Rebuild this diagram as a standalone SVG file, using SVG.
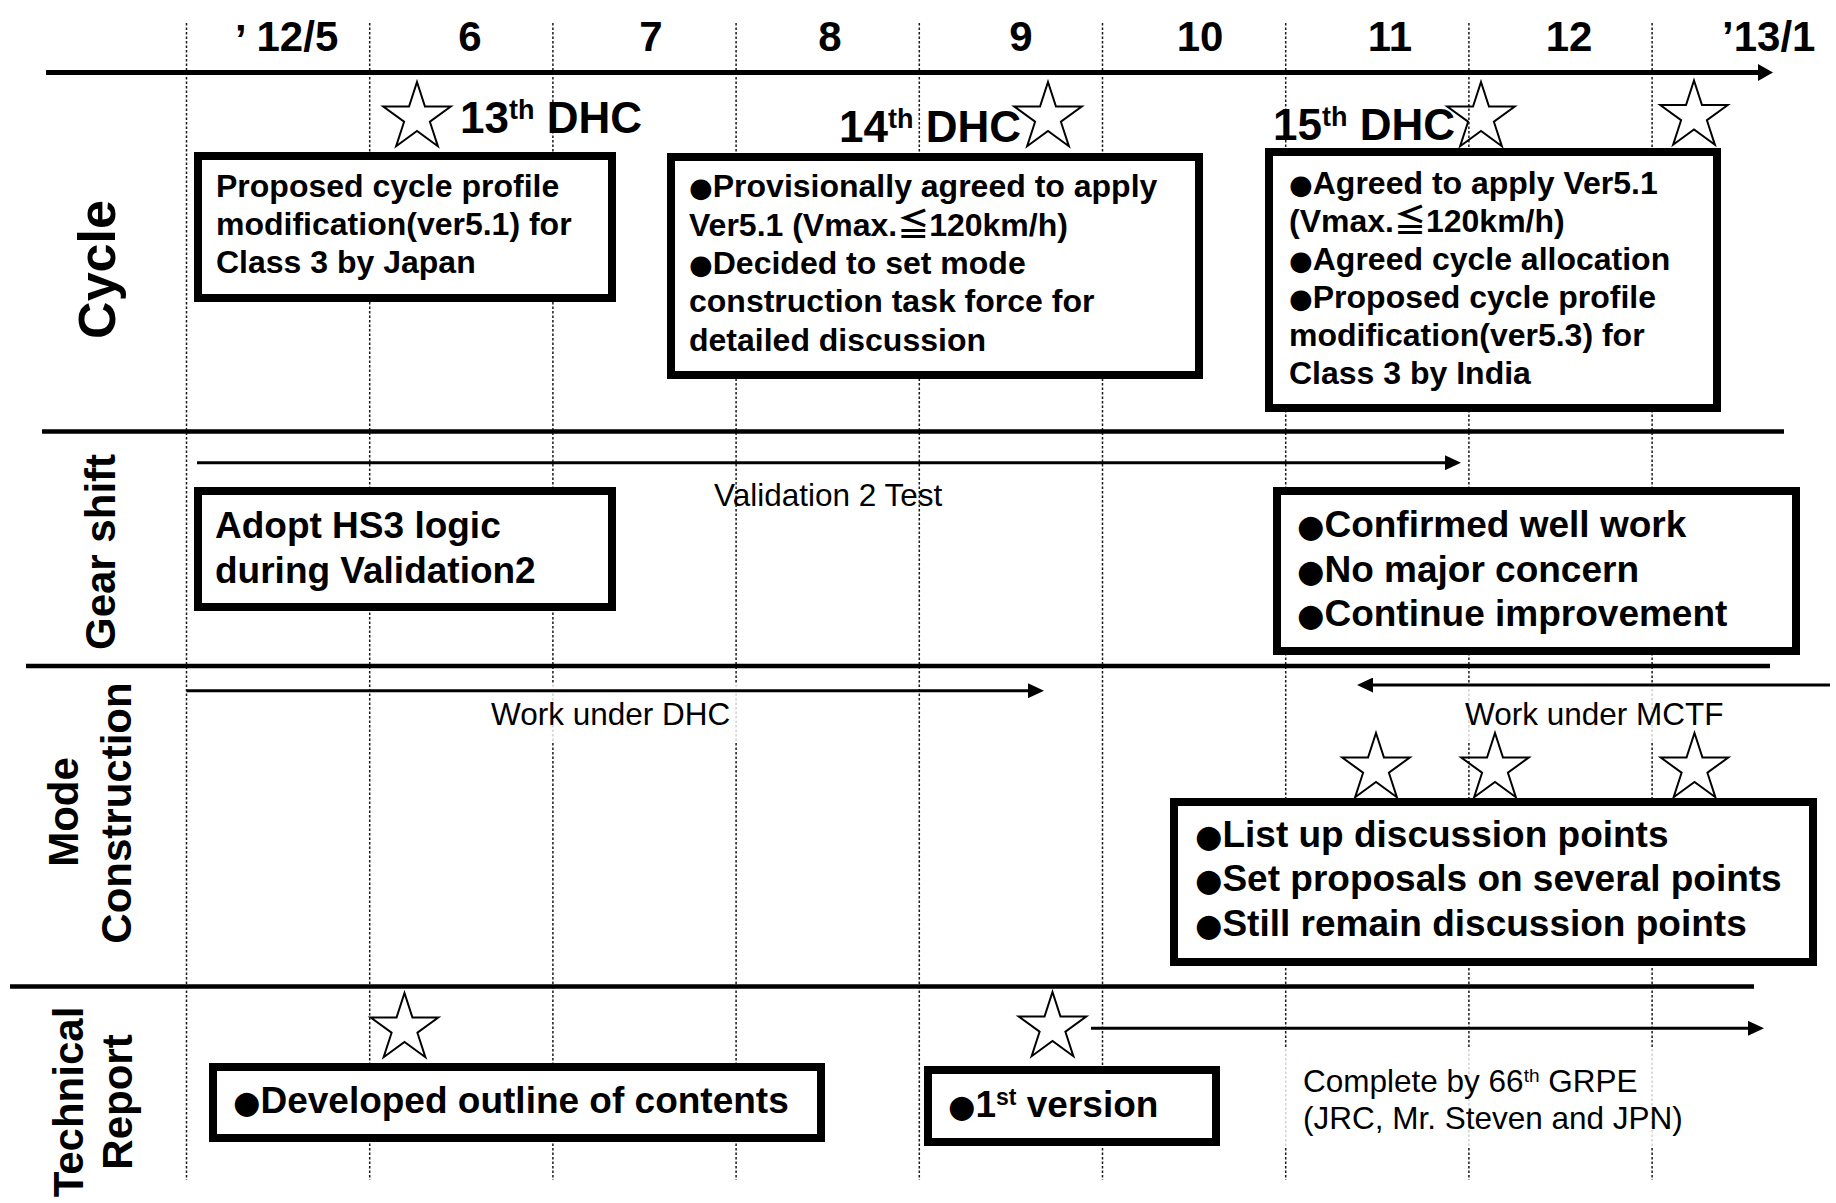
<svg xmlns="http://www.w3.org/2000/svg" xmlns:xlink="http://www.w3.org/1999/xlink" width="1836" height="1203" viewBox="0 0 1836 1203">
  <defs>
    <style>
      .bg { fill: #ffffff; }
      .grid { stroke: #1a1a1a; stroke-width: 1.5; stroke-dasharray: 2.5 2; fill: none; }
      .sep { stroke: #000; stroke-width: 4.5; fill: none; }
      .box { fill: #fff; stroke: #000; stroke-width: 8; }
      .star { fill: none; stroke: #000; stroke-width: 2; stroke-linejoin: miter; }
      .arrow { stroke: #000; stroke-width: 3; fill: none; marker-end: url(#head); }
      .axis { stroke: #000; stroke-width: 5; fill: none; marker-end: url(#axisHead); }
      .lblbg { fill: #fff; fill-opacity: 0.8; }
      .bold { font-family: "Liberation Sans", Arial, "Noto Sans CJK JP", sans-serif; font-weight: bold; fill: #000; }
      .reg { font-family: "Liberation Sans", Arial, "Noto Sans CJK JP", sans-serif; font-weight: normal; fill: #000; font-size: 31.5px; }
      .blt { font-family: "DejaVu Sans", sans-serif; font-weight: normal; font-size: 0.85em; }
      .month { font-size: 42px; text-anchor: middle; }
      .dhc { font-size: 44px; }
      .small { font-size: 32px; }
      .big { font-size: 37px; }
      .lane { font-size: 42px; text-anchor: middle; }
    </style>
    <marker id="head" markerUnits="userSpaceOnUse" markerWidth="16" markerHeight="15" refX="0" refY="7.5" orient="auto">
      <path d="M0,0 L16,7.5 L0,15 z" fill="#000"/>
    </marker>
    <marker id="axisHead" markerUnits="userSpaceOnUse" markerWidth="15" markerHeight="17" refX="0" refY="8.5" orient="auto">
      <path d="M0,0 L15,8.5 L0,17 z" fill="#000"/>
    </marker>
    <path id="star" d="M0,-35.5 L7.97,-10.97 L33.76,-10.97 L12.9,4.19 L20.87,28.72 L0,13.56 L-20.87,28.72 L-12.9,4.19 L-33.76,-10.97 L-7.97,-10.97 Z"/>
  </defs>

  <rect class="bg" x="0" y="0" width="1836" height="1203"/>

  <!-- month grid -->
  <g id="grid">
    <line class="grid" x1="186.5" y1="23" x2="186.5" y2="1180"/>
    <line class="grid" x1="369.7" y1="23" x2="369.7" y2="1180"/>
    <line class="grid" x1="552.9" y1="23" x2="552.9" y2="1180"/>
    <line class="grid" x1="736.1" y1="23" x2="736.1" y2="1180"/>
    <line class="grid" x1="919.3" y1="23" x2="919.3" y2="1180"/>
    <line class="grid" x1="1102.5" y1="23" x2="1102.5" y2="1180"/>
    <line class="grid" x1="1285.7" y1="23" x2="1285.7" y2="1180"/>
    <line class="grid" x1="1468.9" y1="23" x2="1468.9" y2="1180"/>
    <line class="grid" x1="1652.1" y1="23" x2="1652.1" y2="1180"/>
  </g>

  <!-- lane separators -->
  <g id="separators">
    <line class="sep" x1="42" y1="431.5" x2="1784" y2="431.5"/>
    <line class="sep" x1="26" y1="666" x2="1770" y2="666"/>
    <line class="sep" x1="10" y1="986.5" x2="1754" y2="986.5"/>
  </g>

  <!-- month axis -->
  <g id="months" class="bold">
    <text class="month" x="0" y="50.5" style="text-anchor:start"><tspan x="235" dy="3">’</tspan><tspan x="256.5" dy="-3">12/5</tspan></text>
    <text class="month" x="470" y="50.5">6</text>
    <text class="month" x="651" y="50.5">7</text>
    <text class="month" x="830" y="50.5">8</text>
    <text class="month" x="1021" y="50.5">9</text>
    <text class="month" x="1200" y="50.5">10</text>
    <text class="month" x="1390" y="50.5">11</text>
    <text class="month" x="1569" y="50.5">12</text>
    <text class="month" x="1722" y="50.5" style="text-anchor:start">’13/1</text>
  </g>

  <!-- lane titles -->
  <g id="lane-titles" class="bold">
    <text class="lane" transform="translate(115 269.5) rotate(-90)" style="font-size:52px">Cycle</text>
    <text class="lane" transform="translate(114.5 552) rotate(-90)">Gear shift</text>
    <text class="lane" transform="translate(78 812) rotate(-90)">Mode</text>
    <text class="lane" transform="translate(130.5 813) rotate(-90)">Construction</text>
    <text class="lane" transform="translate(83 1102) rotate(-90)">Technical</text>
    <text class="lane" transform="translate(132 1102) rotate(-90)">Report</text>
  </g>

  <!-- label backgrounds -->
  <g id="label-backgrounds">
    <rect class="lblbg" x="475" y="683" width="272" height="60"/>
    <rect class="lblbg" x="1445" y="683" width="300" height="60"/>
    <rect class="lblbg" x="1281" y="1048" width="420" height="99"/>
  </g>

  <!-- connectors -->
  <g id="connectors">
    <line class="axis" x1="46" y1="72.5" x2="1758" y2="72.5"/>
    <line class="arrow" x1="197" y1="462.7" x2="1445" y2="462.7"/>
    <line class="arrow" x1="186.6" y1="690.7" x2="1028" y2="690.7"/>
    <line class="arrow" x1="1830" y1="685" x2="1373" y2="685"/>
    <line class="arrow" x1="1091" y1="1028.3" x2="1748" y2="1028.3"/>
  </g>

  <!-- connector labels -->
  <g id="connector-labels" class="reg">
    <text x="714" y="506">Validation 2 Test</text>
    <text x="491" y="725">Work under DHC</text>
    <text x="1465" y="725">Work under MCTF</text>
    <text x="1303" y="1092">Complete by 66<tspan font-size="19" dy="-10">th</tspan><tspan dy="10"> GRPE</tspan></text>
    <text x="1303" y="1129">(JRC, Mr. Steven and JPN)</text>
  </g>

  <!-- meeting milestones -->
  <g id="milestones">
    <use xlink:href="#star" href="#star" class="star" x="417" y="117.5"/>
    <use xlink:href="#star" href="#star" class="star" x="1048" y="117.5"/>
    <use xlink:href="#star" href="#star" class="star" x="1481" y="117.5"/>
    <use xlink:href="#star" href="#star" class="star" x="1694" y="116"/>
    <use xlink:href="#star" href="#star" class="star" x="1376" y="768.5"/>
    <use xlink:href="#star" href="#star" class="star" x="1495" y="768.5"/>
    <use xlink:href="#star" href="#star" class="star" x="1694.5" y="768.5"/>
    <use xlink:href="#star" href="#star" class="star" x="404.5" y="1028.5"/>
    <use xlink:href="#star" href="#star" class="star" x="1052.5" y="1027.5"/>
  </g>

  <g id="meetings" class="bold">
    <text class="dhc" x="460" y="133.3">13<tspan font-size="27" dy="-14">th</tspan><tspan dy="14"> DHC</tspan></text>
    <text class="dhc" x="839" y="142">14<tspan font-size="27" dy="-14">th</tspan><tspan dy="14"> DHC</tspan></text>
    <text class="dhc" x="1273" y="140">15<tspan font-size="27" dy="-14">th</tspan><tspan dy="14"> DHC</tspan></text>
  </g>

  <!-- cycle lane -->
  <g id="cycle-13th">
    <rect class="box" x="198" y="156" width="414" height="142"/>
    <text class="bold small">
      <tspan x="216" y="197">Proposed cycle profile</tspan>
      <tspan x="216" y="235">modification(ver5.1) for</tspan>
      <tspan x="216" y="273">Class 3 by Japan</tspan>
    </text>
  </g>
  <g id="cycle-14th">
    <rect class="box" x="671" y="157" width="528" height="218"/>
    <text class="bold small">
      <tspan x="689" y="197"><tspan class="blt">●</tspan>Provisionally agreed to apply</tspan>
      <tspan x="689" y="235.5">Ver5.1 (Vmax.≦120km/h)</tspan>
      <tspan x="689" y="274"><tspan class="blt">●</tspan>Decided to set mode</tspan>
      <tspan x="689" y="312">construction task force for</tspan>
      <tspan x="689" y="350.5">detailed discussion</tspan>
    </text>
  </g>
  <g id="cycle-15th">
    <rect class="box" x="1269" y="152" width="448" height="256"/>
    <text class="bold small">
      <tspan x="1289" y="194"><tspan class="blt">●</tspan>Agreed to apply Ver5.1</tspan>
      <tspan x="1289" y="232">(Vmax.≦120km/h)</tspan>
      <tspan x="1289" y="270"><tspan class="blt">●</tspan>Agreed cycle allocation</tspan>
      <tspan x="1289" y="308"><tspan class="blt">●</tspan>Proposed cycle profile</tspan>
      <tspan x="1289" y="346">modification(ver5.3) for</tspan>
      <tspan x="1289" y="384">Class 3 by India</tspan>
    </text>
  </g>

  <!-- gear shift lane -->
  <g id="gear-hs3">
    <rect class="box" x="198" y="491" width="414" height="116"/>
    <text class="bold big">
      <tspan x="215" y="538">Adopt HS3 logic</tspan>
      <tspan x="215" y="582.5">during Validation2</tspan>
    </text>
  </g>
  <g id="gear-result">
    <rect class="box" x="1277" y="491" width="519" height="160"/>
    <text class="bold big">
      <tspan x="1297" y="537"><tspan class="blt">●</tspan>Confirmed well work</tspan>
      <tspan x="1297" y="581.5"><tspan class="blt">●</tspan>No major concern</tspan>
      <tspan x="1297" y="626"><tspan class="blt">●</tspan>Continue improvement</tspan>
    </text>
  </g>

  <!-- mode construction lane -->
  <g id="mode-mctf">
    <rect class="box" x="1174" y="802" width="639" height="160"/>
    <text class="bold big">
      <tspan x="1195" y="847"><tspan class="blt">●</tspan>List up discussion points</tspan>
      <tspan x="1195" y="891"><tspan class="blt">●</tspan>Set proposals on several points</tspan>
      <tspan x="1195" y="936"><tspan class="blt">●</tspan>Still remain discussion points</tspan>
    </text>
  </g>

  <!-- technical report lane -->
  <g id="report-outline">
    <rect class="box" x="213" y="1067" width="608" height="71"/>
    <text class="bold big" x="233" y="1113"><tspan class="blt">●</tspan>Developed outline of contents</text>
  </g>
  <g id="report-first">
    <rect class="box" x="928" y="1070" width="288" height="72"/>
    <text class="bold big" x="948" y="1117"><tspan class="blt">●</tspan>1<tspan font-size="23" dy="-12">st</tspan><tspan dy="12"> version</tspan></text>
  </g>
</svg>
